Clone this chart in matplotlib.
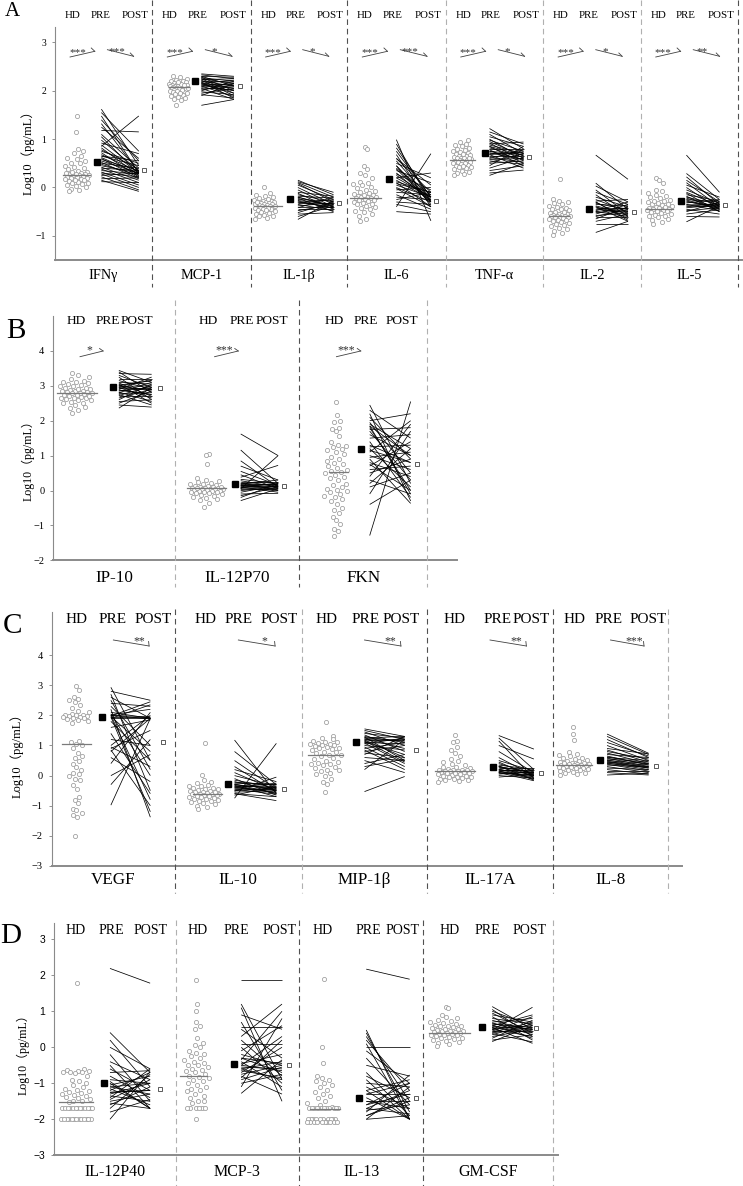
import numpy as np
import matplotlib
matplotlib.use("Agg")
import matplotlib.pyplot as plt
from matplotlib.lines import Line2D
from matplotlib.collections import LineCollection
from matplotlib.transforms import Affine2D

plt.rcParams["font.family"] = ["Liberation Serif", "Noto Sans CJK SC", "DejaVu Sans"]

W, H = 743, 1186

# ---------------- panel A ----------------
a_names = ["IFNγ", "MCP-1", "IL-1β", "IL-6", "TNF-α", "IL-2", "IL-5"]

ifng_hd = [1.48, 1.15, 0.80, 0.75, 0.72, 0.65, 0.60, 0.58, 0.55, 0.50, 0.50, 0.45, 0.42, 0.40, 0.38, 0.35,
           0.33, 0.30, 0.30, 0.28, 0.27, 0.26, 0.25, 0.25, 0.24, 0.22, 0.20, 0.20, 0.18, 0.17, 0.15, 0.13,
           0.12, 0.10, 0.08, 0.05, 0.03, 0.00, -0.03, -0.05, -0.08, 0.22, 0.28, 0.32, 0.15, 0.10]
ifng_pre = [1.62, 1.55, 1.48, 1.40, 1.32, 1.25, 1.18, 1.10, 1.05, 0.98, 0.92, 0.88, 0.85, 0.82, 0.78, 0.75,
            0.72, 0.68, 0.65, 0.62, 0.60, 0.58, 0.55, 0.52, 0.50, 0.48, 0.45, 0.42, 0.40, 0.38, 0.35, 0.32,
            0.30, 0.28, 0.25, 0.22, 0.18, 0.15, 0.12, 0.65]
ifng_post = [0.45, 0.75, 0.30, 0.55, 0.32, 0.60, 1.15, 0.40, 0.28, 0.35, 0.70, 0.30, 1.48, 0.25, 0.38, 0.50,
             0.22, 0.33, 0.45, 0.28, 0.20, 0.35, 0.30, 0.18, 0.40, 0.25, 0.30, 0.15, 0.35, 0.10, 0.28, 0.05,
             0.22, 0.00, 0.30, -0.05, 0.20, -0.08, 0.10, 0.55]

mcp1_hd = [2.30, 2.28, 2.25, 2.22, 2.20, 2.20, 2.18, 2.16, 2.15, 2.14, 2.12, 2.12, 2.10, 2.10, 2.10, 2.09,
           2.08, 2.08, 2.07, 2.06, 2.05, 2.05, 2.04, 2.03, 2.02, 2.00, 2.00, 1.98, 1.97, 1.95, 1.94, 1.92,
           1.90, 1.88, 1.85, 1.83, 1.80, 1.70, 2.11, 2.15, 2.06, 2.01, 1.96, 2.13, 2.19]
mcp1_pre = [2.35, 2.33, 2.30, 2.30, 2.28, 2.27, 2.25, 2.25, 2.23, 2.22, 2.20, 2.20, 2.18, 2.17, 2.15, 2.15,
            2.13, 2.12, 2.10, 2.10, 2.08, 2.06, 2.05, 2.03, 2.00, 1.98, 1.95, 1.92, 1.90, 1.70]
mcp1_post = [2.30, 2.25, 2.10, 2.28, 2.00, 2.20, 1.95, 2.15, 2.25, 1.90, 2.10, 2.18, 1.85, 2.05, 2.22, 1.95,
             2.12, 2.00, 2.15, 1.88, 2.10, 2.02, 1.82, 2.08, 2.20, 1.92, 2.05, 1.85, 2.15, 1.82]

il1b_hd = [0.00, -0.12, -0.15, -0.18, -0.20, -0.22, -0.25, -0.27, -0.28, -0.30, -0.30, -0.32, -0.33, -0.35,
           -0.35, -0.36, -0.37, -0.38, -0.39, -0.40, -0.40, -0.41, -0.42, -0.43, -0.44, -0.45, -0.46, -0.48,
           -0.50, -0.52, -0.54, -0.56, -0.58, -0.60, -0.63, -0.66, -0.38, -0.34, -0.42, -0.47, -0.29, -0.24]
il1b_pre = [0.15, 0.12, 0.10, 0.08, 0.05, 0.00, -0.05, -0.10, -0.12, -0.15, -0.18, -0.20, -0.22, -0.25,
            -0.27, -0.30, -0.32, -0.35, -0.38, -0.40, -0.42, -0.45, -0.48, -0.52, -0.55, -0.60, -0.66, -0.28,
            -0.33, -0.20]
il1b_post = [-0.15, -0.10, -0.20, -0.30, -0.25, -0.35, -0.40, -0.18, -0.45, -0.30, -0.22, -0.38, -0.50, -0.28,
             -0.35, -0.42, -0.25, -0.48, -0.32, -0.40, -0.20, -0.45, -0.35, -0.30, -0.52, -0.38, -0.27, -0.43,
             -0.33, -0.40]

il6_hd = [0.84, 0.80, 0.45, 0.38, 0.30, 0.25, 0.20, 0.12, 0.08, 0.05, 0.00, -0.02, -0.05, -0.08, -0.10, -0.12,
          -0.14, -0.16, -0.18, -0.19, -0.20, -0.20, -0.21, -0.22, -0.23, -0.25, -0.27, -0.30, -0.32, -0.35,
          -0.38, -0.40, -0.42, -0.45, -0.48, -0.50, -0.55, -0.60, -0.65, -0.69, -0.15, -0.25, 0.10, -0.35]
il6_pre = [0.99, 0.90, 0.82, 0.75, 0.68, 0.60, 0.55, 0.50, 0.45, 0.40, 0.35, 0.30, 0.28, 0.25, 0.20, 0.15,
           0.12, 0.10, 0.05, 0.00, -0.05, -0.10, -0.15, -0.20, -0.25, -0.30, -0.35, -0.40, -0.50, 0.20, 0.38,
           0.08, -0.02, 0.60, 0.45]
il6_post = [-0.69, -0.30, -0.20, -0.20, -0.40, -0.10, -0.25, 0.20, -0.35, -0.15, 0.10, -0.30, -0.05, -0.20,
            0.30, -0.25, -0.10, -0.40, -0.20, -0.30, 0.00, -0.15, -0.45, -0.25, -0.10, -0.35, -0.50, 0.70,
            -0.55, -0.20, -0.30, -0.10, -0.40, 0.05, -0.28]

tnfa_hd = [0.98, 0.95, 0.90, 0.88, 0.85, 0.82, 0.80, 0.78, 0.75, 0.73, 0.72, 0.70, 0.68, 0.66, 0.65, 0.63,
           0.62, 0.60, 0.60, 0.58, 0.57, 0.56, 0.55, 0.54, 0.53, 0.52, 0.50, 0.48, 0.47, 0.45, 0.43, 0.42,
           0.40, 0.38, 0.35, 0.32, 0.30, 0.27, 0.25, 0.61, 0.51, 0.69, 0.44]
tnfa_pre = [1.22, 1.15, 1.10, 1.05, 1.00, 0.98, 0.95, 0.92, 0.90, 0.88, 0.85, 0.82, 0.80, 0.78, 0.75, 0.72,
            0.70, 0.68, 0.65, 0.62, 0.60, 0.58, 0.55, 0.52, 0.50, 0.45, 0.40, 0.35, 0.30, 0.25, 0.85, 0.75,
            0.68]
tnfa_post = [0.80, 0.90, 0.70, 0.85, 0.60, 0.75, 0.65, 0.55, 0.94, 0.70, 0.50, 0.62, 0.80, 0.45, 0.68, 0.58,
             0.72, 0.40, 0.65, 0.52, 0.78, 0.60, 0.48, 0.70, 0.55, 0.85, 0.62, 0.45, 0.36, 0.50, 0.66, 0.58,
             0.74]

il2_hd = [0.17, -0.24, -0.27, -0.30, -0.33, -0.35, -0.38, -0.40, -0.42, -0.45, -0.47, -0.50, -0.52, -0.54,
          -0.55, -0.56, -0.57, -0.58, -0.58, -0.59, -0.60, -0.61, -0.62, -0.63, -0.65, -0.67, -0.70, -0.72,
          -0.74, -0.76, -0.78, -0.80, -0.83, -0.86, -0.90, -0.95, -0.98, -0.50, -0.62, -0.68, -0.44]
il2_pre = [0.67, 0.09, 0.03, -0.05, -0.10, -0.15, -0.20, -0.25, -0.28, -0.30, -0.33, -0.35, -0.38, -0.40,
           -0.42, -0.45, -0.48, -0.50, -0.52, -0.55, -0.58, -0.60, -0.62, -0.65, -0.70, -0.75, -0.93, -0.40,
           -0.50, -0.30]
il2_post = [0.17, -0.45, -0.30, -0.55, -0.35, -0.60, -0.40, -0.50, -0.25, -0.65, -0.45, -0.38, -0.55, -0.70,
            -0.42, -0.50, -0.30, -0.60, -0.48, -0.35, -0.52, -0.45, -0.62, -0.40, -0.55, -0.75, -0.70, -0.58,
            -0.42, -0.68]

il5_hd = [0.20, 0.15, 0.10, -0.05, -0.08, -0.12, -0.15, -0.18, -0.20, -0.22, -0.25, -0.28, -0.30, -0.32,
          -0.34, -0.36, -0.38, -0.40, -0.42, -0.43, -0.44, -0.45, -0.46, -0.47, -0.48, -0.50, -0.52, -0.54,
          -0.56, -0.58, -0.60, -0.62, -0.65, -0.68, -0.72, -0.76, -0.35, -0.41, -0.49, -0.27]
il5_pre = [0.67, 0.29, 0.22, 0.15, 0.10, 0.05, 0.00, -0.05, -0.10, -0.15, -0.18, -0.20, -0.22, -0.25, -0.28,
           -0.30, -0.32, -0.35, -0.38, -0.40, -0.42, -0.45, -0.48, -0.50, -0.55, -0.60, -0.71, -0.26, -0.36,
           -0.12]
il5_post = [-0.10, -0.25, -0.35, -0.30, -0.40, -0.20, -0.45, -0.33, -0.38, -0.28, -0.50, -0.35, -0.42, -0.30,
            -0.45, -0.38, -0.25, -0.48, -0.40, -0.32, -0.36, -0.55, -0.42, -0.30, -0.46, -0.61, -0.38, -0.44,
            -0.35, -0.50]

a_median = [0.25, 2.08, -0.39, -0.21, 0.56, -0.58, -0.45]
a_pre_mean = [0.53, 2.20, -0.24, 0.17, 0.72, -0.45, -0.27]
a_post_mean = [0.36, 2.10, -0.32, -0.27, 0.63, -0.51, -0.37]
a_stars_hd = ["***", "***", "***", "***", "***", "***", "***"]
a_stars_pp = ["***", "*", "*", "***", "*", "*", "**"]

# ---------------- panel B ----------------
b_names = ["IP-10", "IL-12P70", "FKN"]

ip10_hd = [3.36, 3.30, 3.25, 3.20, 3.15, 3.10, 3.08, 3.05, 3.02, 3.00, 2.98, 2.95, 2.93, 2.90, 2.88, 2.86,
           2.84, 2.82, 2.80, 2.79, 2.78, 2.77, 2.75, 2.73, 2.70, 2.68, 2.66, 2.64, 2.62, 2.60, 2.58, 2.55,
           2.52, 2.50, 2.45, 2.40, 2.35, 2.30, 2.21, 2.85, 2.72, 2.92, 3.12, 2.65, 2.81]
ip10_pre = [3.44, 3.40, 3.35, 3.30, 3.25, 3.20, 3.15, 3.10, 3.08, 3.05, 3.02, 3.00, 2.98, 2.95, 2.92, 2.90,
            2.88, 2.85, 2.82, 2.80, 2.78, 2.75, 2.72, 2.70, 2.65, 2.60, 2.55, 2.50, 2.45, 2.36, 3.00, 2.88,
            2.95]
ip10_post = [3.10, 2.80, 3.33, 2.95, 2.60, 3.20, 2.90, 3.05, 2.70, 2.50, 3.15, 2.85, 3.00, 2.65, 2.90, 3.25,
             2.75, 2.95, 2.55, 3.10, 2.80, 2.45, 3.00, 2.70, 2.90, 3.05, 2.60, 2.85, 2.39, 2.95, 3.15, 2.75,
             2.90]

il12p70_hd = [1.04, 1.02, 0.76, 0.35, 0.30, 0.28, 0.25, 0.22, 0.20, 0.18, 0.15, 0.13, 0.12, 0.10, 0.09, 0.08,
              0.07, 0.06, 0.05, 0.05, 0.04, 0.03, 0.02, 0.01, 0.00, 0.00, -0.02, -0.03, -0.05, -0.07, -0.08,
              -0.10, -0.12, -0.15, -0.18, -0.22, -0.25, -0.28, -0.35, -0.46, 0.11, 0.06, -0.04]
il12p70_pre = [1.62, 1.16, 0.85, 0.70, 0.55, 0.45, 0.38, 0.32, 0.28, 0.25, 0.22, 0.20, 0.18, 0.15, 0.13, 0.12,
               0.10, 0.08, 0.06, 0.05, 0.03, 0.00, -0.05, -0.10, -0.15, -0.20, -0.29, 0.14, 0.09, 0.17]
il12p70_post = [1.00, 0.20, 0.10, 0.30, 0.15, 0.05, 0.72, 0.20, 0.10, 0.25, 0.00, 0.15, 0.30, 0.05, 0.18,
                0.10, -0.05, 0.22, 0.12, 1.00, 0.02, 0.08, 0.15, -0.08, 0.10, 0.20, 0.05, 0.12, 0.00, 0.18]

fkn_hd = [2.55, 2.15, 2.00, 1.95, 1.80, 1.75, 1.70, 1.55, 1.40, 1.30, 1.28, 1.25, 1.20, 1.15, 1.10, 1.05,
          0.95, 0.85, 0.80, 0.75, 0.70, 0.65, 0.60, 0.55, 0.52, 0.50, 0.45, 0.40, 0.30, 0.20, 0.10, 0.05,
          0.02, 0.00, -0.05, -0.10, -0.15, -0.20, -0.25, -0.30, -0.40, -0.50, -0.55, -0.65, -0.75, -0.85,
          -0.95, -1.10, -1.15, -1.29, 0.15, 0.35, 0.90]
fkn_pre = [2.45, 2.30, 2.20, 2.10, 2.00, 1.95, 1.90, 1.85, 1.80, 1.75, 1.70, 1.60, 1.50, 1.40, 1.30, 1.25,
           1.20, 1.10, 1.00, 0.95, 0.90, 0.80, 0.70, 0.60, 0.50, 0.40, 0.30, 0.20, 0.10, -0.10, -0.40, -1.29,
           1.85, 0.75, 1.15]
fkn_post = [0.20, 1.50, -0.30, 0.90, 2.20, 0.50, 1.20, -0.10, 0.00, 1.80, 0.30, 1.00, 1.60, -0.20, 0.80, 1.30,
            0.10, 2.00, 0.60, 1.10, -0.37, 0.40, 1.40, 0.70, 0.90, 1.90, -0.10, 1.20, 0.50, 1.70, 0.30, 2.55,
            1.00, 0.00, 0.80]

b_median = [2.79, 0.07, 0.54]
b_pre_mean = [2.96, 0.19, 1.18]
b_post_mean = [2.93, 0.14, 0.77]
b_stars_hd = ["*", "***", "***"]

# ---------------- panel C ----------------
c_names = ["VEGF", "IL-10", "MIP-1β", "IL-17A", "IL-8"]

vegf_hd = [2.97, 2.85, 2.60, 2.55, 2.50, 2.45, 2.35, 2.25, 2.15, 2.05, 2.02, 2.00, 2.00, 1.98, 1.97, 1.95,
           1.93, 1.90, 1.88, 1.85, 1.80, 1.75, 1.15, 1.10, 1.05, 1.00, 0.90, 0.75, 0.60, 0.50, 0.40, 0.30,
           0.20, 0.10, 0.00, -0.10, -0.15, -0.30, -0.45, -0.70, -0.80, -0.90, -1.10, -1.15, -1.25, -1.30,
           -1.38, -2.00, 2.10, 1.92, 0.05, 0.65]
vegf_pre = [2.93, 2.80, 2.70, 2.60, 2.50, 2.40, 2.30, 2.20, 2.10, 2.05, 2.02, 2.00, 2.00, 1.98, 1.96, 1.95,
            1.90, 1.80, 1.60, 1.40, 1.20, 1.00, 0.95, 0.90, 0.80, 0.60, 0.40, 0.00, -0.30, -0.98, 1.95, 2.00,
            0.85, 1.90]
vegf_post = [0.50, 2.50, -0.50, 1.90, 0.20, 2.30, 1.00, -1.38, 1.90, 0.00, 2.20, -0.80, 1.95, 2.45, 0.80,
             -1.20, 1.90, 0.50, 1.85, -0.60, 1.00, 2.00, 0.30, 1.50, 1.90, -0.20, 2.10, 0.70, 1.20, 1.90,
             1.95, 1.88, -1.00, 2.35]

il10_hd = [1.07, 0.02, -0.15, -0.20, -0.25, -0.30, -0.33, -0.36, -0.40, -0.42, -0.45, -0.48, -0.50, -0.52,
           -0.54, -0.56, -0.58, -0.60, -0.60, -0.61, -0.62, -0.63, -0.65, -0.67, -0.70, -0.72, -0.74, -0.76,
           -0.78, -0.80, -0.83, -0.86, -0.90, -0.95, -1.00, -1.05, -1.12, -0.55, -0.68, -0.46, -0.85]
il10_pre = [1.18, 0.80, 0.50, 0.30, 0.20, 0.10, 0.00, -0.10, -0.15, -0.20, -0.25, -0.28, -0.30, -0.32, -0.35,
            -0.38, -0.40, -0.42, -0.45, -0.50, -0.55, -0.60, -0.65, -0.75, -0.48, -0.35, -0.22, -0.60, -0.30,
            -0.52]
il10_post = [-0.60, -0.30, -0.45, -0.55, -0.20, -0.50, -0.35, -0.65, -0.40, -0.50, -0.30, -0.60, -0.45, -0.70,
             -0.38, -0.55, -0.25, -0.48, -0.62, -0.40, -0.50, -0.83, -0.35, 1.07, -0.45, -0.58, -0.30, -0.70,
             -0.42, -0.05]

mip1b_hd = [1.79, 1.30, 1.25, 1.20, 1.15, 1.12, 1.10, 1.08, 1.05, 1.02, 1.00, 0.98, 0.95, 0.92, 0.90, 0.88,
            0.85, 0.80, 0.75, 0.70, 0.68, 0.65, 0.60, 0.55, 0.50, 0.45, 0.42, 0.40, 0.35, 0.30, 0.25, 0.20,
            0.15, 0.10, 0.05, 0.00, -0.10, -0.20, -0.28, -0.53, 1.05, 0.78, 0.38, 0.18]
mip1b_pre = [1.55, 1.50, 1.45, 1.40, 1.35, 1.30, 1.28, 1.25, 1.22, 1.20, 1.18, 1.15, 1.12, 1.10, 1.08, 1.05,
             1.00, 0.95, 0.90, 0.85, 0.80, 0.75, 0.70, 0.60, 0.50, 0.40, 0.30, 0.20, -0.53, 1.25, 1.15]
mip1b_post = [1.30, 1.20, 1.00, 1.25, 0.80, 1.10, 0.50, 1.30, 0.90, 1.15, 0.60, 1.20, 0.70, 1.05, 0.40, 1.25,
              0.85, 0.30, 1.10, 0.20, 1.00, 0.60, 1.30, 0.50, 0.10, 0.70, 0.55, 1.20, -0.03, 1.15, 0.45]

il17a_hd = [1.36, 1.15, 1.10, 0.95, 0.85, 0.75, 0.65, 0.55, 0.50, 0.45, 0.40, 0.35, 0.30, 0.28, 0.25, 0.22,
            0.20, 0.18, 0.17, 0.16, 0.15, 0.15, 0.14, 0.13, 0.12, 0.10, 0.08, 0.06, 0.05, 0.03, 0.00, -0.03,
            -0.05, -0.08, -0.10, -0.12, -0.15, -0.18, -0.20, 0.20, 0.10, -0.06, 0.00, -0.14]
il17a_pre = [1.33, 1.25, 1.15, 1.00, 0.80, 0.60, 0.50, 0.45, 0.40, 0.35, 0.32, 0.30, 0.28, 0.25, 0.22, 0.20,
             0.18, 0.15, 0.12, 0.10, 0.08, 0.05, 0.00, -0.05, 0.30, 0.20, 0.15, 0.10]
il17a_post = [0.88, 0.20, -0.10, 0.55, 0.10, 0.00, 0.15, -0.05, 0.05, 0.20, -0.15, 0.10, 0.00, 0.25, -0.10,
              0.05, 0.15, -0.05, 0.10, -0.17, 0.00, 0.12, -0.08, 0.05, 0.08, 0.20, -0.12, 0.02]

il8_hd = [1.62, 1.38, 1.18, 0.79, 0.72, 0.68, 0.65, 0.60, 0.58, 0.55, 0.52, 0.50, 0.48, 0.45, 0.43, 0.42,
          0.40, 0.38, 0.37, 0.36, 0.35, 0.34, 0.33, 0.32, 0.30, 0.28, 0.26, 0.25, 0.22, 0.20, 0.18, 0.15,
          0.12, 0.10, 0.08, 0.05, 0.02, 0.41, 0.31, 0.24]
il8_pre = [1.38, 1.30, 1.20, 1.10, 1.00, 0.90, 0.85, 0.80, 0.75, 0.70, 0.65, 0.60, 0.58, 0.55, 0.52, 0.50,
           0.48, 0.45, 0.42, 0.40, 0.38, 0.35, 0.30, 0.25, 0.20, 0.15, 0.10, 0.02, 0.62, 0.45]
il8_post = [0.74, 0.70, 0.60, 0.65, 0.50, 0.72, 0.45, 0.55, 0.40, 0.60, 0.35, 0.50, 0.30, 0.45, 0.28, 0.40,
            0.25, 0.35, 0.20, 0.30, 0.15, 0.28, 0.10, 0.20, 0.05, 0.15, 0.02, 0.08, 0.38, 0.25]

c_median = [1.04, -0.61, 0.68, 0.16, 0.36]
c_pre_mean = [1.95, -0.28, 1.12, 0.28, 0.52]
c_post_mean = [1.10, -0.45, 0.85, 0.10, 0.32]
c_stars_pp = ["**", "*", "**", "**", "***"]

# ---------------- panel D ----------------
d_names = ["IL-12P40", "MCP-3", "IL-13", "GM-CSF"]

il12p40_hd = [1.79, -0.60, -0.62, -0.65, -0.67, -0.68, -0.70, -0.70, -0.72, -0.80, -0.90, -0.95, -1.00,
              -1.05, -1.10, -1.15, -1.20, -1.22, -1.25, -1.28, -1.30, -1.32, -1.35, -1.38, -1.40, -1.45,
              -1.50, -1.50, -1.52,
              -1.70, -1.70, -1.70, -1.70, -1.70, -1.70, -1.70, -1.70, -1.70, -1.70, -1.70, -1.70, -1.70,
              -2.00, -2.00, -2.00, -2.00, -2.00, -2.00, -2.00, -2.00, -2.00, -2.00, -2.00, -2.00, -2.00]
il12p40_pre = [2.19, 0.41, 0.20, 0.00, -0.20, -0.40, -0.50, -0.60, -0.70, -0.80, -0.90, -1.00, -1.05, -1.10,
               -1.15, -1.20, -1.25, -1.30, -1.35, -1.40, -1.45, -1.50, -1.55, -1.60, -1.70, -1.80, -2.00,
               -1.25, -0.95, -1.10]
il12p40_post = [1.78, -0.70, -1.10, -0.60, -1.50, -0.90, -1.70, -1.20, -0.65, -1.40, -1.00, -1.70, -0.80,
                -1.30, -1.60, -0.70, -1.20, -1.00, -1.50, -0.60, -0.90, -1.30, -1.70, -1.10, -0.75, -1.45,
                -0.68, -1.20, -1.70, -1.00]

mcp3_hd = [1.87, 1.20, 1.00, 0.70, 0.60, 0.50, 0.25, 0.12, 0.05, 0.00, -0.10, -0.15, -0.20, -0.25, -0.30,
           -0.35, -0.40, -0.45, -0.50, -0.55, -0.60, -0.65, -0.70, -0.75, -0.80, -0.82, -0.85, -0.90, -0.95,
           -1.00, -1.05, -1.10, -1.15, -1.20, -1.30, -1.35, -1.40, -1.50, -1.50, -1.55, -1.70, -1.70, -1.70,
           -1.70, -1.70, -1.70, -2.00, -0.50, -0.62, -1.22]
mcp3_pre = [1.87, 1.20, 1.10, 0.90, 0.70, 0.50, 0.30, 0.20, 0.10, 0.00, -0.10, -0.20, -0.30, -0.35, -0.40,
            -0.45, -0.50, -0.55, -0.60, -0.65, -0.70, -0.75, -0.80, -0.85, -0.90, -1.00, -1.10, -1.28, -0.50,
            -0.30, 0.55, -0.60]
mcp3_post = [1.87, -0.90, -1.50, 0.50, -1.20, -0.30, 1.20, -0.80, 0.10, -1.00, 0.60, -0.50, -0.70, 1.00,
             -1.10, -0.20, 0.30, -0.60, -0.40, -0.85, 0.00, -0.50, -1.30, 0.20, -0.55, -0.75, 0.80, -0.35,
             -0.65, -0.45, 0.55, -0.90]

il13_hd = [1.89, 0.00, -0.45, -0.80, -0.85, -0.90, -0.95, -1.00, -1.05, -1.10, -1.20, -1.25, -1.30, -1.35,
           -1.40, -1.50, -1.55, -1.60, -1.65,
           -1.70, -1.70, -1.70, -1.70, -1.70, -1.70, -1.70, -1.70, -1.70, -1.70, -1.70, -1.70,
           -2.00, -2.00, -2.00, -2.00, -2.00, -2.00, -2.00, -2.00, -2.00, -2.00,
           -2.07, -2.07, -2.07, -2.07, -2.07, -2.07, -2.07, -2.07, -2.07, -2.07]
il13_pre = [2.17, 0.00, 0.48, 0.40, 0.30, 0.20, 0.10, -0.10, -0.30, -0.50, -0.70, -0.80, -0.90, -1.00, -1.10,
            -1.20, -1.30, -1.40, -1.50, -1.60, -1.70, -1.70, -1.75, -1.80, -1.90, -2.00, -2.00, -1.50, -1.20,
            -1.60, -1.90, -1.30]
il13_post = [1.89, 0.00, -2.00, -1.80, -1.50, -1.20, -2.00, -1.00, -1.60, -0.80, -1.90, -1.40, -2.00, -1.10,
             -1.70, -0.90, -1.30, -2.00, -1.50, -1.00, -1.85, -1.20, -1.60, -0.77, -1.40, -1.90, -1.10, -1.70,
             -2.00, -1.30, -1.50, -1.00]

gmcsf_hd = [1.13, 1.10, 0.90, 0.85, 0.80, 0.75, 0.72, 0.70, 0.68, 0.65, 0.62, 0.60, 0.58, 0.55, 0.53, 0.50,
            0.48, 0.46, 0.45, 0.43, 0.42, 0.40, 0.39, 0.38, 0.37, 0.35, 0.33, 0.30, 0.28, 0.26, 0.25, 0.22,
            0.20, 0.18, 0.15, 0.12, 0.08, 0.04, 0.44, 0.34, 0.50, 0.60]
gmcsf_pre = [1.13, 1.05, 1.00, 0.95, 0.90, 0.85, 0.80, 0.75, 0.70, 0.68, 0.65, 0.62, 0.60, 0.58, 0.55, 0.52,
             0.50, 0.48, 0.45, 0.42, 0.40, 0.38, 0.35, 0.30, 0.25, 0.20, 0.16, 0.55, 0.45, 0.65]
gmcsf_post = [0.50, 0.30, 0.60, 0.40, 0.70, 0.20, 0.65, 0.45, 0.80, 0.35, 0.55, 0.25, 0.90, 0.50, 0.40, 0.60,
              0.30, 1.11, 0.45, 0.70, 0.55, 0.15, 0.65, 0.50, 0.75, 0.35, 0.60, 0.11, 0.85, 0.50]

d_median = [-1.53, -0.80, -1.71, 0.39]
d_pre_mean = [-0.98, -0.47, -1.40, 0.57]
d_post_mean = [-1.17, -0.49, -1.42, 0.53]

panels = [
    dict(names=a_names, hd=[ifng_hd, mcp1_hd, il1b_hd, il6_hd, tnfa_hd, il2_hd, il5_hd],
         pre=[ifng_pre, mcp1_pre, il1b_pre, il6_pre, tnfa_pre, il2_pre, il5_pre],
         post=[ifng_post, mcp1_post, il1b_post, il6_post, tnfa_post, il2_post, il5_post],
         med=a_median, pre_mean=a_pre_mean, post_mean=a_post_mean,
         stars_hd=a_stars_hd, stars_pp=a_stars_pp),
    dict(names=b_names, hd=[ip10_hd, il12p70_hd, fkn_hd], pre=[ip10_pre, il12p70_pre, fkn_pre],
         post=[ip10_post, il12p70_post, fkn_post],
         med=b_median, pre_mean=b_pre_mean, post_mean=b_post_mean, stars_hd=b_stars_hd, stars_pp=None),
    dict(names=c_names, hd=[vegf_hd, il10_hd, mip1b_hd, il17a_hd, il8_hd],
         pre=[vegf_pre, il10_pre, mip1b_pre, il17a_pre, il8_pre],
         post=[vegf_post, il10_post, mip1b_post, il17a_post, il8_post],
         med=c_median, pre_mean=c_pre_mean, post_mean=c_post_mean, stars_hd=None, stars_pp=c_stars_pp),
    dict(names=d_names, hd=[il12p40_hd, mcp3_hd, il13_hd, gmcsf_hd],
         pre=[il12p40_pre, mcp3_pre, il13_pre, gmcsf_pre],
         post=[il12p40_post, mcp3_post, il13_post, gmcsf_post],
         med=d_median, pre_mean=d_pre_mean, post_mean=d_post_mean, stars_hd=None, stars_pp=None),
]

# layout, in pixels of the 743x1186 image (y measured from the top)
DK, LT = "#505050", "#b0b0b0"
layouts = [
    dict(letter="A", letter_xy=(12, 12), letter_fs=15,
         box=(55, 27, 742, 260), ylim=(-1.5, 3.32), yticks=[-1, 0, 1, 2, 3], tick_fs=7, tick_font="Liberation Serif",
         bounds=[55, 152, 250.7, 347, 445.7, 543, 640.7, 738], seps=[DK, DK, DK, LT, LT, LT, DK], sep_y=(0, 287),
         ylab_xy=(28, 150), ylab_fs=9, lab_y=15, lab_fs=7.8, cat_y=275.5, cat_fs=10.3,
         lab_x=[(0.18, 0.465, 0.825)] * 7,
         spread=[12.5, 9.5, 11, 12, 9.5, 11, 13],
         pos=[(0.225, 0.08, 0.36, 0.437, 0.478, 0.864, 0.915), (0.27, 0.17, 0.37, 0.44, 0.50, 0.83, 0.89),
              (0.147, 0.03, 0.32, 0.41, 0.49, 0.86, 0.92), (0.18, 0.03, 0.34, 0.43, 0.50, 0.85, 0.90),
              (0.17, 0.04, 0.30, 0.40, 0.45, 0.80, 0.86), (0.17, 0.065, 0.27, 0.47, 0.54, 0.87, 0.93),
              (0.19, 0.05, 0.33, 0.41, 0.47, 0.81, 0.865)],
         hd_br=[(0.155, 0.41)] * 7, hd_br_y=(57, 51.3), hd_hook=(-3.5, -3.3), hd_star=(0.3, 52.3),
         pp_br=(0.54, 0.81), pp_br_y=(49.7, 56.3), pp_hook=(-3.3, -3.3), pp_star=(0.35, 51.2),
         star_fs=8),
    dict(letter="B", letter_xy=(16, 331), letter_fs=21,
         box=(53.3, 316, 456.7, 560.3), ylim=(-2, 5.0), yticks=[-2, -1, 0, 1, 2, 3, 4], tick_fs=7.5,
         tick_font="Liberation Serif",
         bounds=[53.3, 174.7, 299.3, 427.3], seps=[LT, DK, LT], sep_y=(300, 587),
         ylab_xy=(28, 457.5), ylab_fs=8.6, lab_y=320.7, lab_fs=9.6, cat_y=578.5, cat_fs=12.3,
         lab_x=[(0.19, 0.45, 0.69), (0.27, 0.54, 0.78), (0.27, 0.52, 0.80)],
         spread=[16.5, 17, 13],
         pos=[(0.19, 0.03, 0.36, 0.49, 0.54, 0.81, 0.88), (0.255, 0.10, 0.41, 0.48, 0.53, 0.83, 0.88),
              (0.29, 0.23, 0.38, 0.48, 0.55, 0.87, 0.92)],
         hd_br=[(0.22, 0.41), (0.32, 0.51), (0.29, 0.48)], hd_br_y=(356.7, 351), hd_hook=(-3.5, -2.5),
         hd_star=(0.42, 350.5), pp_br=None, pp_br_y=None, pp_hook=None, pp_star=None, star_fs=8.5),
    dict(letter="C", letter_xy=(12, 626), letter_fs=21,
         box=(51.7, 611.7, 681.7, 866), ylim=(-3, 5.44), yticks=[-3, -2, -1, 0, 1, 2, 3, 4], tick_fs=7.5,
         tick_font="Liberation Serif",
         bounds=[51.7, 175, 301.7, 427.3, 552.7, 668.3], seps=[DK, LT, DK, DK, LT], sep_y=(609, 893),
         ylab_xy=(17, 753), ylab_fs=9, lab_y=619.3, lab_fs=11, cat_y=880.5, cat_fs=12.3,
         lab_x=[(0.20, 0.49, 0.82), (0.24, 0.50, 0.82), (0.20, 0.51, 0.79), (0.22, 0.56, 0.83),
                (0.19, 0.48, 0.83)],
         spread=[14, 16, 16, 18, 16],
         pos=[(0.20, 0.08, 0.32, 0.41, 0.48, 0.80, 0.90), (0.23, 0.14, 0.37, 0.42, 0.47, 0.80, 0.86),
              (0.19, 0.05, 0.33, 0.43, 0.50, 0.82, 0.91), (0.22, 0.06, 0.38, 0.52, 0.57, 0.85, 0.91),
              (0.18, 0.03, 0.34, 0.41, 0.47, 0.83, 0.89)],
         hd_br=None, hd_br_y=None, hd_hook=None, hd_star=None,
         pp_br=(0.50, 0.79), pp_br_y=(640, 646), pp_hook=(-0.5, -4.5), pp_star=(0.72, 641.8), star_fs=8.5),
    dict(letter="D", letter_xy=(11, 936), letter_fs=21,
         box=(54, 922.7, 557.7, 1155.3), ylim=(-3, 3.46), yticks=[-3, -2, -1, 0, 1, 2, 3], tick_fs=7.5,
         tick_font="Liberation Sans",
         bounds=[54, 175.7, 299.3, 423.3, 553.3], seps=[LT, DK, DK, LT], sep_y=(920, 1186),
         ylab_xy=(23, 1052), ylab_fs=8.6, lab_y=931, lab_fs=10, cat_y=1172.5, cat_fs=11.5,
         lab_x=[(0.175, 0.47, 0.79), (0.18, 0.49, 0.84), (0.19, 0.56, 0.83), (0.20, 0.49, 0.82)],
         spread=[16, 13, 16, 17],
         pos=[(0.19, 0.04, 0.32, 0.41, 0.46, 0.79, 0.87), (0.17, 0.035, 0.25, 0.47, 0.53, 0.86, 0.92),
              (0.19, 0.09, 0.33, 0.48, 0.54, 0.89, 0.94), (0.18, 0.04, 0.36, 0.45, 0.53, 0.84, 0.87)],
         hd_br=None, hd_br_y=None, hd_hook=None, hd_star=None,
         pp_br=None, pp_br_y=None, pp_hook=None, pp_star=None, star_fs=8),
]

fig = plt.figure(figsize=(W / 100, H / 100), dpi=100)
TP = Affine2D().scale(1 / W, -1 / H).translate(0, 1) + fig.transFigure
GOLD = 0.6180339887


def spread_x(vals, ppu, hmax, win=6.0):
    # density-scaled sideways spread (violin-like): crowded values fan out, isolated ones stay central
    ys = np.asarray(vals, float) * ppu
    order = np.argsort(ys)
    xs = np.zeros(len(ys))
    for k, i in enumerate(order):
        n = np.sum(np.abs(ys - ys[i]) <= win)
        h = min(hmax, 1.0 + 1.8 * (n - 1))
        u = (k * GOLD) % 1.0
        xs[i] = (2 * u - 1) * h
    return xs


def seg(x1, y1, x2, y2, color="#404040", lw=0.6):
    fig.add_artist(Line2D([x1, x2], [y1, y2], transform=TP, color=color, lw=lw))


def bracket(x1, x2, ys, hook, stars, star_pos, fs):
    ya, yb = ys
    seg(x1, ya, x2, yb)
    seg(x2, yb, x2 + hook[0], yb + hook[1])
    fig.text(x1 + star_pos[0] * (x2 - x1), star_pos[1], stars, transform=TP, ha="center", va="center",
             fontsize=fs, color="#303030")


for d, lay in zip(panels, layouts):
    L, T, R, B = lay["box"]
    y0, y1 = lay["ylim"]
    ax = fig.add_axes([L / W, 1 - B / H, (R - L) / W, (B - T) / H])
    ax.set_xlim(L, R)
    ax.set_ylim(y0, y1)
    ax.set_xticks([])
    ax.set_yticks(lay["yticks"])
    ax.tick_params(axis="y", length=2.5, width=0.6, color="#808080", pad=4, labelsize=lay["tick_fs"])
    for lab in ax.get_yticklabels():
        lab.set_family(lay["tick_font"])
    for s in ("top", "right"):
        ax.spines[s].set_visible(False)
    ax.spines["left"].set_color("#8a8a8a")
    ax.spines["left"].set_linewidth(0.8)
    ax.spines["bottom"].set_color("#8a8a8a")
    ax.spines["bottom"].set_linewidth(1.4)
    ax.patch.set_alpha(0)
    ppu = (B - T) / (y1 - y0)

    for x, c in zip(lay["bounds"][1:], lay["seps"]):
        fig.add_artist(Line2D([x, x], list(lay["sep_y"]), transform=TP, color=c, lw=0.8,
                              ls=(0, (5, 3.5))))

    fig.text(*lay["letter_xy"], lay["letter"], transform=TP, ha="center", va="center",
             fontsize=lay["letter_fs"])
    fig.text(*lay["ylab_xy"], "Log10（pg/mL）", transform=TP, rotation=90, ha="center", va="center",
             fontsize=lay["ylab_fs"])

    bnd = lay["bounds"]
    for g, name in enumerate(d["names"]):
        gl, gr = bnd[g], bnd[g + 1]
        gw = gr - gl
        hc, m0, m1, pq, l1, l2, pp = lay["pos"][g]
        hd = d["hd"][g]
        xs = spread_x(hd, ppu, lay["spread"][g]) + gl + hc * gw
        ax.scatter(xs, hd, s=9, facecolors="white", edgecolors="#9a9a9a", linewidths=0.55, zorder=3)
        ax.plot([gl + m0 * gw, gl + m1 * gw], [d["med"][g]] * 2, color="#7a7a7a", lw=0.9, zorder=4)
        segs = [[(gl + l1 * gw, a), (gl + l2 * gw, b)] for a, b in zip(d["pre"][g], d["post"][g])]
        ax.add_collection(LineCollection(segs, colors="black", linewidths=0.55, zorder=2))
        ax.plot(gl + pq * gw, d["pre_mean"][g], marker="s", ms=3.8, color="black", zorder=5)
        ax.plot(gl + pp * gw, d["post_mean"][g], marker="s", ms=3.4, mfc="white", mec="#404040",
                mew=0.6, zorder=5)

        for txt, rx in zip(("HD", "PRE", "POST"), lay["lab_x"][g]):
            fig.text(gl + rx * gw, lay["lab_y"], txt, transform=TP, ha="center", va="center",
                     fontsize=lay["lab_fs"])
        fig.text((gl + gr) / 2, lay["cat_y"], name, transform=TP, ha="center", va="center",
                 fontsize=lay["cat_fs"])

        if d["stars_hd"] is not None:
            a, b = lay["hd_br"][g]
            bracket(gl + a * gw, gl + b * gw, lay["hd_br_y"], lay["hd_hook"], d["stars_hd"][g],
                    lay["hd_star"], lay["star_fs"])
        if d["stars_pp"] is not None:
            a, b = lay["pp_br"]
            bracket(gl + a * gw, gl + b * gw, lay["pp_br_y"], lay["pp_hook"], d["stars_pp"][g],
                    lay["pp_star"], lay["star_fs"])

fig.savefig("out.png", dpi=100)
